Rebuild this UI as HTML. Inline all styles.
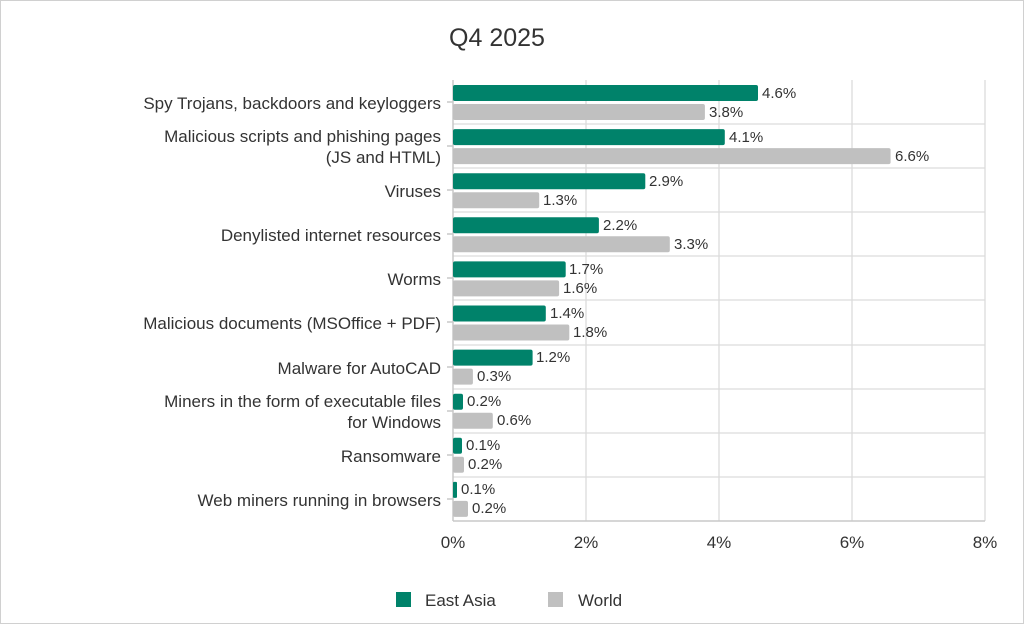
<!DOCTYPE html>
<html><head><meta charset="utf-8"><style>
body{margin:0;background:#fff}
svg{display:block;font-family:"Liberation Sans",sans-serif}
</style></head><body>
<svg width="1024" height="624" viewBox="0 0 1024 624">
<rect x="0.5" y="0.5" width="1023" height="623" fill="#fff" stroke="#d0d0d0"/>
<text x="497" y="46" font-size="25" text-anchor="middle" fill="#333">Q4 2025</text>
<g stroke="#dcdcdc" stroke-width="1.3">
<line x1="586" y1="80" x2="586" y2="521"/><line x1="719" y1="80" x2="719" y2="521"/>
<line x1="852" y1="80" x2="852" y2="521"/><line x1="985" y1="80" x2="985" y2="521"/>
<line x1="453" y1="124" x2="985" y2="124"/><line x1="453" y1="168" x2="985" y2="168"/>
<line x1="453" y1="212" x2="985" y2="212"/><line x1="453" y1="256" x2="985" y2="256"/>
<line x1="453" y1="300" x2="985" y2="300"/><line x1="453" y1="345" x2="985" y2="345"/>
<line x1="453" y1="389" x2="985" y2="389"/><line x1="453" y1="433" x2="985" y2="433"/>
<line x1="453" y1="477" x2="985" y2="477"/>
</g>
<g stroke="#c8c8c8" stroke-width="1.5">
<line x1="453" y1="80" x2="453" y2="521"/><line x1="453" y1="521" x2="985" y2="521"/>
<line x1="447" y1="102" x2="453" y2="102"/><line x1="447" y1="146" x2="453" y2="146"/>
<line x1="447" y1="190" x2="453" y2="190"/><line x1="447" y1="234" x2="453" y2="234"/>
<line x1="447" y1="278" x2="453" y2="278"/><line x1="447" y1="322" x2="453" y2="322"/>
<line x1="447" y1="367" x2="453" y2="367"/><line x1="447" y1="411" x2="453" y2="411"/>
<line x1="447" y1="455" x2="453" y2="455"/><line x1="447" y1="499" x2="453" y2="499"/>
</g>
<g fill="#00826a">
<rect x="453" y="85" width="305" height="16" rx="2"/>
<rect x="453" y="129.1" width="271.8" height="16" rx="2"/>
<rect x="453" y="173.2" width="192.3" height="16" rx="2"/>
<rect x="453" y="217.3" width="145.9" height="16" rx="2"/>
<rect x="453" y="261.4" width="112.7" height="16" rx="2"/>
<rect x="453" y="305.5" width="92.8" height="16" rx="2"/>
<rect x="453" y="349.6" width="79.6" height="16" rx="2"/>
<rect x="453" y="393.7" width="10" height="16" rx="2"/>
<rect x="453" y="437.8" width="9" height="16" rx="2"/>
<rect x="453" y="481.9" width="4" height="16" rx="1"/>
</g>
<g fill="#c0c0c0">
<rect x="453" y="104" width="251.9" height="16" rx="2"/>
<rect x="453" y="148.1" width="437.6" height="16" rx="2"/>
<rect x="453" y="192.2" width="86.2" height="16" rx="2"/>
<rect x="453" y="236.3" width="216.8" height="16" rx="2"/>
<rect x="453" y="280.4" width="106.1" height="16" rx="2"/>
<rect x="453" y="324.5" width="116.3" height="16" rx="2"/>
<rect x="453" y="368.6" width="19.9" height="16" rx="2"/>
<rect x="453" y="412.7" width="39.8" height="16" rx="2"/>
<rect x="453" y="456.8" width="11" height="16" rx="2"/>
<rect x="453" y="500.9" width="15" height="16" rx="2"/>
</g>
<g font-size="15" fill="#333">
<text x="762" y="98">4.6%</text><text x="709" y="117">3.8%</text>
<text x="729" y="142">4.1%</text><text x="895" y="161">6.6%</text>
<text x="649" y="186">2.9%</text><text x="543" y="205">1.3%</text>
<text x="603" y="230">2.2%</text><text x="674" y="249">3.3%</text>
<text x="569" y="274">1.7%</text><text x="563" y="293">1.6%</text>
<text x="550" y="318">1.4%</text><text x="573" y="337">1.8%</text>
<text x="536" y="362">1.2%</text><text x="477" y="381">0.3%</text>
<text x="467" y="406">0.2%</text><text x="497" y="425">0.6%</text>
<text x="466" y="450">0.1%</text><text x="468" y="469">0.2%</text>
<text x="461" y="494">0.1%</text><text x="472" y="513">0.2%</text>
</g>
<g font-size="17" fill="#333" text-anchor="end">
<text x="441" y="109">Spy Trojans, backdoors and keyloggers</text>
<text x="441" y="142">Malicious scripts and phishing pages</text>
<text x="441" y="163">(JS and HTML)</text>
<text x="441" y="197">Viruses</text>
<text x="441" y="241">Denylisted internet resources</text>
<text x="441" y="285">Worms</text>
<text x="441" y="329">Malicious documents (MSOffice + PDF)</text>
<text x="441" y="374">Malware for AutoCAD</text>
<text x="441" y="407">Miners in the form of executable files</text>
<text x="441" y="428">for Windows</text>
<text x="441" y="462">Ransomware</text>
<text x="441" y="506">Web miners running in browsers</text>
</g>
<g font-size="17" fill="#333" text-anchor="middle">
<text x="453" y="548">0%</text><text x="586" y="548">2%</text><text x="719" y="548">4%</text>
<text x="852" y="548">6%</text><text x="985" y="548">8%</text>
</g>
<rect x="396" y="592" width="15" height="15" fill="#00826a"/>
<text x="425" y="606" font-size="17" fill="#333">East Asia</text>
<rect x="548" y="592" width="15" height="15" fill="#c0c0c0"/>
<text x="578" y="606" font-size="17" fill="#333">World</text>
</svg>
</body></html>
